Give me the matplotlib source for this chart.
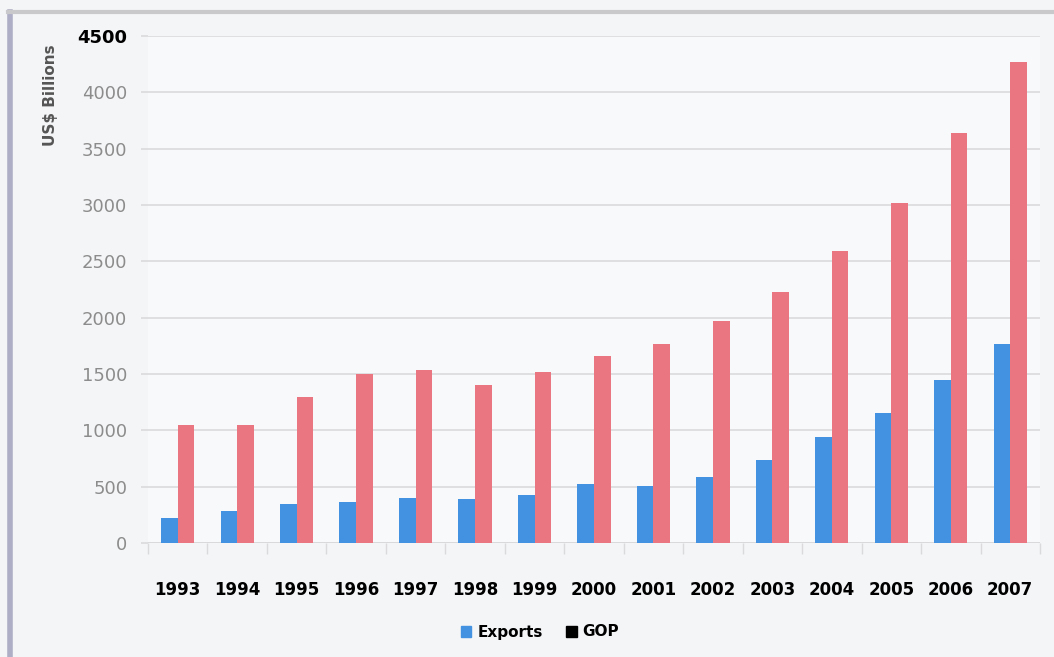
import numpy as np
import matplotlib.pyplot as plt
from matplotlib.patches import Patch
from matplotlib.lines import Line2D

# Exports and GOP, US$ billions
years = ['1993', '1994', '1995', '1996', '1997', '1998', '1999', '2000',
         '2001', '2002', '2003', '2004', '2005', '2006', '2007']
exports = [225, 280, 345, 365, 400, 395, 430, 520, 510, 590, 735, 945, 1155, 1445, 1770]
gop = [1050, 1050, 1300, 1500, 1540, 1400, 1520, 1660, 1770, 1970, 2230, 2590, 3020, 3640, 4270]
yticks = [0, 500, 1000, 1500, 2000, 2500, 3000, 3500, 4000, 4500]

blue = '#4392e2'
red = '#ea7682'

fig = plt.figure(figsize=(10.54, 6.57), dpi=100, facecolor='#f4f5f7')
ax = fig.add_axes([0.1404, 0.1735, 0.8463, 0.7717])
ax.set_facecolor('#f8f9fb')

x = np.arange(len(years))
w = 0.28
ax.bar(x - w / 2, exports, w, color=blue, zorder=3)
ax.bar(x + w / 2, gop, w, color=red, zorder=3)

ax.set_xlim(-0.5, len(years) - 0.5)
ax.set_ylim(0, 4500)
ax.set_yticks(yticks)
ax.yaxis.grid(True, color='#d8d8da', lw=1.1, zorder=0)
for s in ax.spines.values():
    s.set_visible(False)

ax.tick_params(axis='y', length=5, color='#d8d8da', width=1.1,
               labelsize=13, labelcolor='#8c8c8c', pad=10)
ax.set_xticks(x)
ax.set_xticklabels(years, fontsize=12, fontweight='bold')
ax.tick_params(axis='x', length=0, pad=27)
ax.set_xticks(np.arange(len(years) + 1) - 0.5, minor=True)
ax.tick_params(axis='x', which='minor', length=8, color='#dadadc', width=1)
ax.axhline(0, color='#d8d8da', lw=1.1, zorder=1)

top = ax.get_yticklabels()[-1]
top.set_color('black')
top.set_fontweight('bold')

fig.text(50 / 1054, 1 - 95 / 657, 'US$ Billions', rotation=90, ha='center',
         va='center', fontsize=11, fontweight='bold', color='#555555')

handles = [Patch(color=blue, label='Exports'), Patch(color='black', label='GOP')]
fig.legend(handles=handles, loc='center', bbox_to_anchor=(540 / 1054, 1 - 632 / 657),
           ncol=2, frameon=False, prop={'weight': 'bold', 'size': 11},
           handlelength=0.7, handleheight=0.7, handletextpad=0.4, columnspacing=1.5)

# frame lines along the top and left edges
fig.add_artist(Line2D([10 / 1054, 10 / 1054], [0, 1 - 12 / 657],
                      color='#aeaec6', lw=4, transform=fig.transFigure))
fig.add_artist(Line2D([8 / 1054, 1], [1 - 12 / 657, 1 - 12 / 657],
                      color='#c9c9cc', lw=3, transform=fig.transFigure))

fig.savefig('out.png', dpi=100, facecolor=fig.get_facecolor())
